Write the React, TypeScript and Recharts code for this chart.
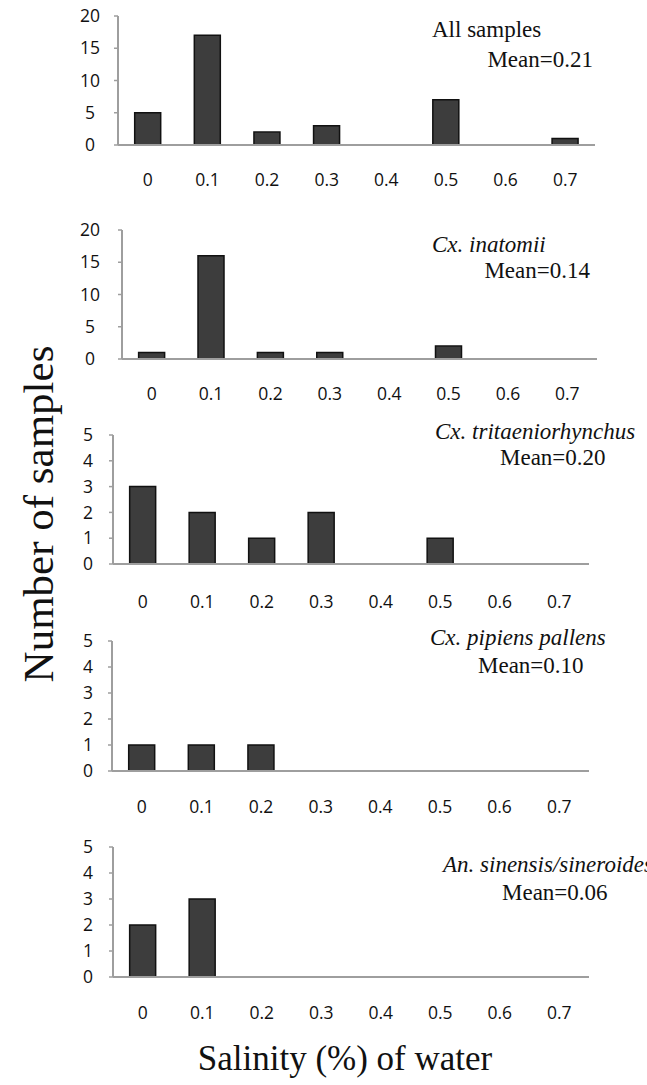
import React from 'react';
import { BarChart, Bar, XAxis, YAxis } from 'recharts';

const categories = ['0', '0.1', '0.2', '0.3', '0.4', '0.5', '0.6', '0.7'];

const allSamples = [5, 17, 2, 3, 0, 7, 0, 1];
const inatomii = [1, 16, 1, 1, 0, 2, 0, 0];
const tritaeniorhynchus = [3, 2, 1, 2, 0, 1, 0, 0];
const pipiensPallens = [1, 1, 1, 0, 0, 0, 0, 0];
const sinensis = [2, 3, 0, 0, 0, 0, 0, 0];

const bigTicks = [0, 5, 10, 15, 20];
const smallTicks = [0, 1, 2, 3, 4, 5];

const titles = ['All samples', 'Cx. inatomii', 'Cx. tritaeniorhynchus', 'Cx. pipiens pallens', 'An. sinensis/sineroides'];
const means = ['Mean=0.21', 'Mean=0.14', 'Mean=0.20', 'Mean=0.10', 'Mean=0.06'];

const series = [allSamples, inatomii, tritaeniorhynchus, pipiensPallens, sinensis];
const tickSets = [bigTicks, bigTicks, smallTicks, smallTicks, smallTicks];

// layout (pixels)
const layout = [
  { axisX: 118, xEnd: 595, plotTop: 16, baseline: 145, labelGap: 35, tickCenter: 90 },
  { axisX: 122, xEnd: 597, plotTop: 230, baseline: 359, labelGap: 35, tickCenter: 90 },
  { axisX: 113, xEnd: 589, plotTop: 435, baseline: 564, labelGap: 38, tickCenter: 88 },
  { axisX: 112, xEnd: 589, plotTop: 641, baseline: 771, labelGap: 36, tickCenter: 88 },
  { axisX: 113, xEnd: 589, plotTop: 847, baseline: 977, labelGap: 36, tickCenter: 88 },
];

const notes = [
  { tx: 432, ty: 37, italic: false, mx: 593, my: 67, anchor: 'end' },
  { tx: 432, ty: 252, italic: true, mx: 590, my: 278, anchor: 'end' },
  { tx: 435, ty: 439, italic: true, mx: 500, my: 465, anchor: 'start' },
  { tx: 430, ty: 645, italic: true, mx: 478, my: 673, anchor: 'start' },
  { tx: 443, ty: 872, italic: true, mx: 502, my: 900, anchor: 'start' },
];

const AXIS = '#9e9e9e';
const SERIF = '"Liberation Serif", "Times New Roman", serif';
const SANS = '"Open Sans", sans-serif';

function Panel({ idx }: { idx: number }) {
  const L = layout[idx];
  const data = categories.map((c, i) => ({ cat: c, v: series[idx][i] }));
  const ticks = tickSets[idx];
  const max = ticks[ticks.length - 1];
  const mTop = 20;
  const xh = 60;
  const width = L.xEnd + 10;
  const height = mTop + (L.baseline - L.plotTop) + xh;
  return (
    <div style={{ position: 'absolute', left: 0, top: L.plotTop - mTop }}>
      <BarChart
        width={width}
        height={height}
        data={data}
        margin={{ top: mTop, right: 10, left: 0, bottom: 0 }}
        barCategoryGap="28%"
      >
        <XAxis
          dataKey="cat"
          interval={0}
          height={xh}
          tickLine={false}
          tickSize={0}
          tickMargin={L.labelGap - 6}
          axisLine={{ stroke: AXIS, strokeWidth: 2 }}
          tick={{ fontFamily: SANS, fontSize: 17.5, fill: '#111' }}
        />
        <YAxis
          type="number"
          domain={[0, max]}
          ticks={ticks}
          interval={0}
          width={L.axisX}
          tickSize={4}
          tickMargin={L.axisX - 4 - L.tickCenter}
          tickLine={{ stroke: AXIS, strokeWidth: 1.5 }}
          axisLine={{ stroke: AXIS, strokeWidth: 2 }}
          tick={{ fontFamily: SANS, fontSize: 17.5, fill: '#111', textAnchor: 'middle' }}
          allowDataOverflow
        />
        <Bar dataKey="v" fill="#3d3d3d" stroke="#111" strokeWidth={1.5} isAnimationActive={false} />
      </BarChart>
    </div>
  );
}

export default function App() {
  return (
    <div style={{ position: 'absolute', left: 0, top: 0, width: 647, height: 1085, background: '#fff', overflow: 'hidden' }}>
      {layout.map((_, i) => (
        <Panel key={i} idx={i} />
      ))}
      <svg width={647} height={1085} style={{ position: 'absolute', left: 0, top: 0, pointerEvents: 'none' }}>
        {notes.map((n, i) => (
          <g key={i} fontFamily={SERIF} fontSize={23} fill="#111">
            <text x={n.tx} y={n.ty} fontStyle={n.italic ? 'italic' : 'normal'}>
              {titles[i]}
            </text>
            <text x={n.mx} y={n.my} textAnchor={n.anchor as any}>
              {means[i]}
            </text>
          </g>
        ))}
        <text
          x={0}
          y={0}
          transform="translate(38,514) rotate(-90)"
          textAnchor="middle"
          dominantBaseline="central"
          fontFamily={SERIF}
          fontSize={43}
          fill="#111"
        >
          Number of samples
        </text>
        <text x={345} y={1070} textAnchor="middle" fontFamily={SERIF} fontSize={35} fill="#111">
          Salinity (%) of water
        </text>
      </svg>
    </div>
  );
}
